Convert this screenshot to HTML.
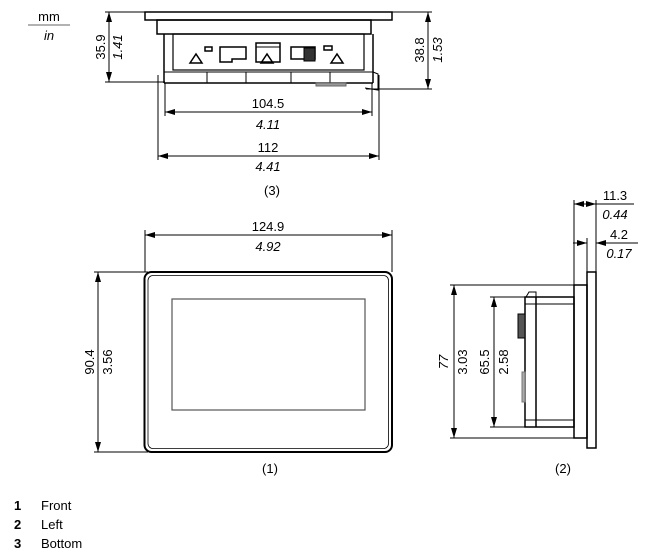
<!DOCTYPE html>
<html><head><style>
html,body{margin:0;padding:0;background:#fff;}
svg{display:block;}
text{font-family:"Liberation Sans",Arial,sans-serif;font-size:13px;fill:#000;}
.i{font-style:italic;}
</style></head><body>
<svg width="655" height="558" viewBox="0 0 655 558" xmlns="http://www.w3.org/2000/svg">
<defs>
<marker id="a" viewBox="0 0 10 6" refX="10" refY="3" markerWidth="10" markerHeight="6" orient="auto-start-reverse" markerUnits="userSpaceOnUse"><path d="M0,0 L10,3 L0,6 z" fill="#000"/></marker>
</defs>
<g stroke="#000" fill="none" stroke-width="1">
<!-- mm/in -->
<line x1="28" y1="25" x2="70" y2="25" stroke="#666"/>
<!-- TOP VIEW (3) -->
<rect x="145" y="12" width="247" height="8" fill="#fff" stroke-width="1.5"/>
<rect x="157" y="20" width="214" height="14" stroke-width="1.5"/>
<line x1="164" y1="34" x2="164" y2="83" stroke-width="1.5"/>
<line x1="373" y1="34" x2="373" y2="83" stroke-width="1.5"/>
<rect x="173" y="34" width="191" height="36" stroke-width="1.2"/>
<line x1="164" y1="83" x2="373" y2="83" stroke-width="1.5"/>
<line x1="164" y1="72" x2="373" y2="72"/>
<line x1="207" y1="72" x2="207" y2="83"/><line x1="246" y1="72" x2="246" y2="83"/>
<line x1="291" y1="72" x2="291" y2="83"/><line x1="330" y1="72" x2="330" y2="83"/>
<path d="M373,72 L378,74 L378,90 L365,88" />
<rect x="316" y="83" width="30" height="3" fill="#999" stroke="#666"/>
<!-- connectors -->
<polygon points="190,63 196,54 202,63" stroke-width="1.5"/>
<polygon points="261,63 267,54 273,63" stroke-width="1.5"/>
<polygon points="331,63 337,54 343,63" stroke-width="1.5"/>
<rect x="205" y="47" width="7" height="4" stroke-width="1.5"/>
<rect x="324" y="46" width="8" height="4" stroke-width="1.5"/>
<path d="M220,47 H246 V59 H232 V62 H220 Z" stroke-width="1.5"/>
<rect x="256" y="43" width="24" height="19" stroke-width="1.5"/>
<line x1="256" y1="47" x2="280" y2="47"/>
<rect x="291" y="47" width="24" height="12" stroke-width="1.5"/>
<rect x="304" y="48" width="11" height="13" fill="#333"/>
<!-- dim 35.9 -->
<line x1="105" y1="12" x2="145" y2="12"/>
<line x1="105" y1="82" x2="165" y2="82"/>
<line x1="109" y1="12" x2="109" y2="82" marker-start="url(#a)" marker-end="url(#a)"/>
<!-- dim 38.8 -->
<line x1="392" y1="12" x2="432" y2="12"/>
<line x1="366" y1="89" x2="432" y2="89"/>
<line x1="428" y1="12" x2="428" y2="89" marker-start="url(#a)" marker-end="url(#a)"/>
<!-- ext -->
<line x1="158" y1="75" x2="158" y2="160"/>
<line x1="379" y1="75" x2="379" y2="160"/>
<line x1="165" y1="83" x2="165" y2="116"/>
<line x1="372" y1="83" x2="372" y2="116"/>
<line x1="165" y1="112" x2="372" y2="112" marker-start="url(#a)" marker-end="url(#a)"/>
<line x1="158" y1="156" x2="379" y2="156" marker-start="url(#a)" marker-end="url(#a)"/>
<!-- FRONT VIEW (1) -->
<rect x="144.5" y="272" width="247.5" height="180" rx="7" stroke-width="2"/>
<rect x="148" y="275.5" width="240.5" height="173" rx="5" stroke-width="0.8"/>
<rect x="172" y="299" width="193" height="111" stroke="#555" stroke-width="1.2"/>
<line x1="145" y1="230" x2="145" y2="272"/>
<line x1="392" y1="230" x2="392" y2="272"/>
<line x1="145" y1="235" x2="392" y2="235" marker-start="url(#a)" marker-end="url(#a)"/>
<line x1="94" y1="272" x2="148" y2="272"/>
<line x1="94" y1="452" x2="148" y2="452"/>
<line x1="98" y1="272" x2="98" y2="452" marker-start="url(#a)" marker-end="url(#a)"/>
<!-- SIDE VIEW (2) -->
<rect x="587" y="272" width="9" height="176" stroke-width="1.5"/>
<rect x="574" y="285" width="13" height="153" stroke-width="1.5"/>
<rect x="525" y="297" width="49" height="130" stroke-width="1.5"/>
<line x1="536" y1="297" x2="536" y2="427" stroke-width="1.5"/>
<line x1="525" y1="304" x2="574" y2="304"/>
<line x1="525" y1="420" x2="574" y2="420"/>
<path d="M526,297 L529,292 L536,292 L536,297"/>
<rect x="518" y="314" width="7" height="24" fill="#555"/>
<rect x="522" y="372" width="3" height="30" fill="#aaa" stroke="#777"/>
<line x1="450" y1="285" x2="574" y2="285"/>
<line x1="450" y1="438" x2="574" y2="438"/>
<line x1="454" y1="285" x2="454" y2="438" marker-start="url(#a)" marker-end="url(#a)"/>
<line x1="490" y1="297" x2="525" y2="297"/>
<line x1="490" y1="427" x2="525" y2="427"/>
<line x1="494" y1="297" x2="494" y2="427" marker-start="url(#a)" marker-end="url(#a)"/>
<line x1="574" y1="200" x2="574" y2="285"/>
<line x1="596" y1="200" x2="596" y2="272"/>
<line x1="587" y1="238" x2="587" y2="272"/>
<line x1="574" y1="204" x2="596" y2="204" marker-start="url(#a)" marker-end="url(#a)"/>
<line x1="596" y1="204" x2="634" y2="204"/>
<line x1="573" y1="243" x2="587" y2="243" marker-end="url(#a)"/>
<line x1="610" y1="243" x2="596" y2="243" marker-end="url(#a)"/>
<line x1="610" y1="243" x2="638" y2="243"/>
</g>
<!-- labels -->
<text x="49" y="21" text-anchor="middle">mm</text>
<text x="49" y="40" text-anchor="middle" class="i">in</text>
<text transform="translate(105,47) rotate(-90)" text-anchor="middle">35.9</text>
<text transform="translate(122,47) rotate(-90)" text-anchor="middle" class="i">1.41</text>
<text transform="translate(424,50) rotate(-90)" text-anchor="middle">38.8</text>
<text transform="translate(442,50) rotate(-90)" text-anchor="middle" class="i">1.53</text>
<text x="268" y="108" text-anchor="middle">104.5</text>
<text x="268" y="129" text-anchor="middle" class="i">4.11</text>
<text x="268" y="152" text-anchor="middle">112</text>
<text x="268" y="171" text-anchor="middle" class="i">4.41</text>
<text x="272" y="195" text-anchor="middle">(3)</text>
<text x="268" y="231" text-anchor="middle">124.9</text>
<text x="268" y="251" text-anchor="middle" class="i">4.92</text>
<text transform="translate(94,362) rotate(-90)" text-anchor="middle">90.4</text>
<text transform="translate(112,362) rotate(-90)" text-anchor="middle">3.56</text>
<text x="270" y="473" text-anchor="middle">(1)</text>
<text transform="translate(448,362) rotate(-90)" text-anchor="middle" class="i">77</text>
<text transform="translate(467,362) rotate(-90)" text-anchor="middle">3.03</text>
<text transform="translate(489,362) rotate(-90)" text-anchor="middle">65.5</text>
<text transform="translate(508,362) rotate(-90)" text-anchor="middle">2.58</text>
<text x="563" y="473" text-anchor="middle">(2)</text>
<text x="615" y="200" text-anchor="middle">11.3</text>
<text x="615" y="219" text-anchor="middle" class="i">0.44</text>
<text x="619" y="239" text-anchor="middle">4.2</text>
<text x="619" y="258" text-anchor="middle" class="i">0.17</text>
<text x="14" y="510" font-weight="bold">1</text><text x="41" y="510">Front</text>
<text x="14" y="529" font-weight="bold">2</text><text x="41" y="529">Left</text>
<text x="14" y="548" font-weight="bold">3</text><text x="41" y="548">Bottom</text>
</svg>
</body></html>
